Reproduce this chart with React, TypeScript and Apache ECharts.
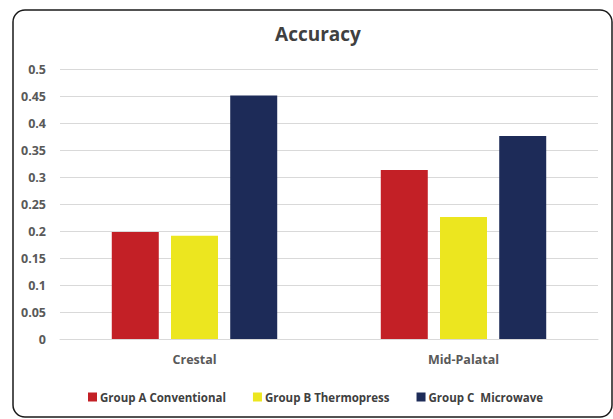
import React, { useEffect, useRef } from "react";
import * as echarts from "echarts";

const categories = ["Crestal", "Mid-Palatal"];
const seriesNames = ["Group A Conventional", "Group B Thermopress", "Group C  Microwave"];
const groupA = [0.198, 0.313];
const groupB = [0.191, 0.226];
const groupC = [0.451, 0.376];
const colors = ["#C32026", "#ECE61F", "#1D2B58"];

export default function App() {
  const ref = useRef<HTMLDivElement>(null);
  useEffect(() => {
    if (!ref.current) return;
    const chart = echarts.init(ref.current, null, { renderer: "svg" });
    const font = "'Open Sans', 'Noto Sans', sans-serif";
    const values = [groupA, groupB, groupC];
    chart.setOption({
      animation: false,
      backgroundColor: "#ffffff",
      title: {
        text: "Accuracy",
        left: 313,
        top: 19,
        textAlign: "center",
        textStyle: { fontFamily: font, fontSize: 19, fontWeight: "bold", color: "#404040" },
      },
      graphic: [
        {
          type: "rect",
          shape: { x: 13, y: 10, width: 599, height: 407, r: 12 },
          style: { fill: "none", stroke: "#1a1a1a", lineWidth: 1.5 },
          silent: true,
          z: 100,
        },
      ],
      legend: {
        left: 83,
        top: 386,
        itemWidth: 9,
        itemHeight: 9,
        itemGap: 27,
        icon: "rect",
        data: seriesNames,
        textStyle: { fontFamily: font, fontSize: 11.5, fontWeight: "bold", color: "#404040", padding: [0, 0, 0, -2] },
      },
      grid: { left: 60, right: 15, top: 69, height: 270 },
      xAxis: {
        type: "category",
        data: categories,
        axisLine: { lineStyle: { color: "#D9D9D9", width: 1 } },
        axisTick: { show: false },
        axisLabel: { margin: 14, fontFamily: font, fontSize: 12.5, fontWeight: "bold", color: "#595959" },
      },
      yAxis: {
        type: "value",
        min: 0,
        max: 0.5,
        interval: 0.05,
        axisLine: { show: false },
        axisTick: { show: false },
        splitLine: { lineStyle: { color: "#D9D9D9", width: 1 } },
        axisLabel: {
          margin: 14,
          fontFamily: font,
          fontSize: 12.5,
          fontWeight: "bold",
          color: "#595959",
          formatter: (v: number) => String(parseFloat(v.toFixed(2))),
        },
      },
      series: seriesNames.map((name, i) => ({
        name,
        type: "bar",
        data: values[i],
        barWidth: 47,
        barGap: "26%",
        itemStyle: { color: colors[i] },
      })),
    });
    return () => chart.dispose();
  }, []);
  return (
    <div
      ref={ref}
      style={{ position: "fixed", left: 0, top: 0, width: 613, height: 419, background: "#fff" }}
    />
  );
}
